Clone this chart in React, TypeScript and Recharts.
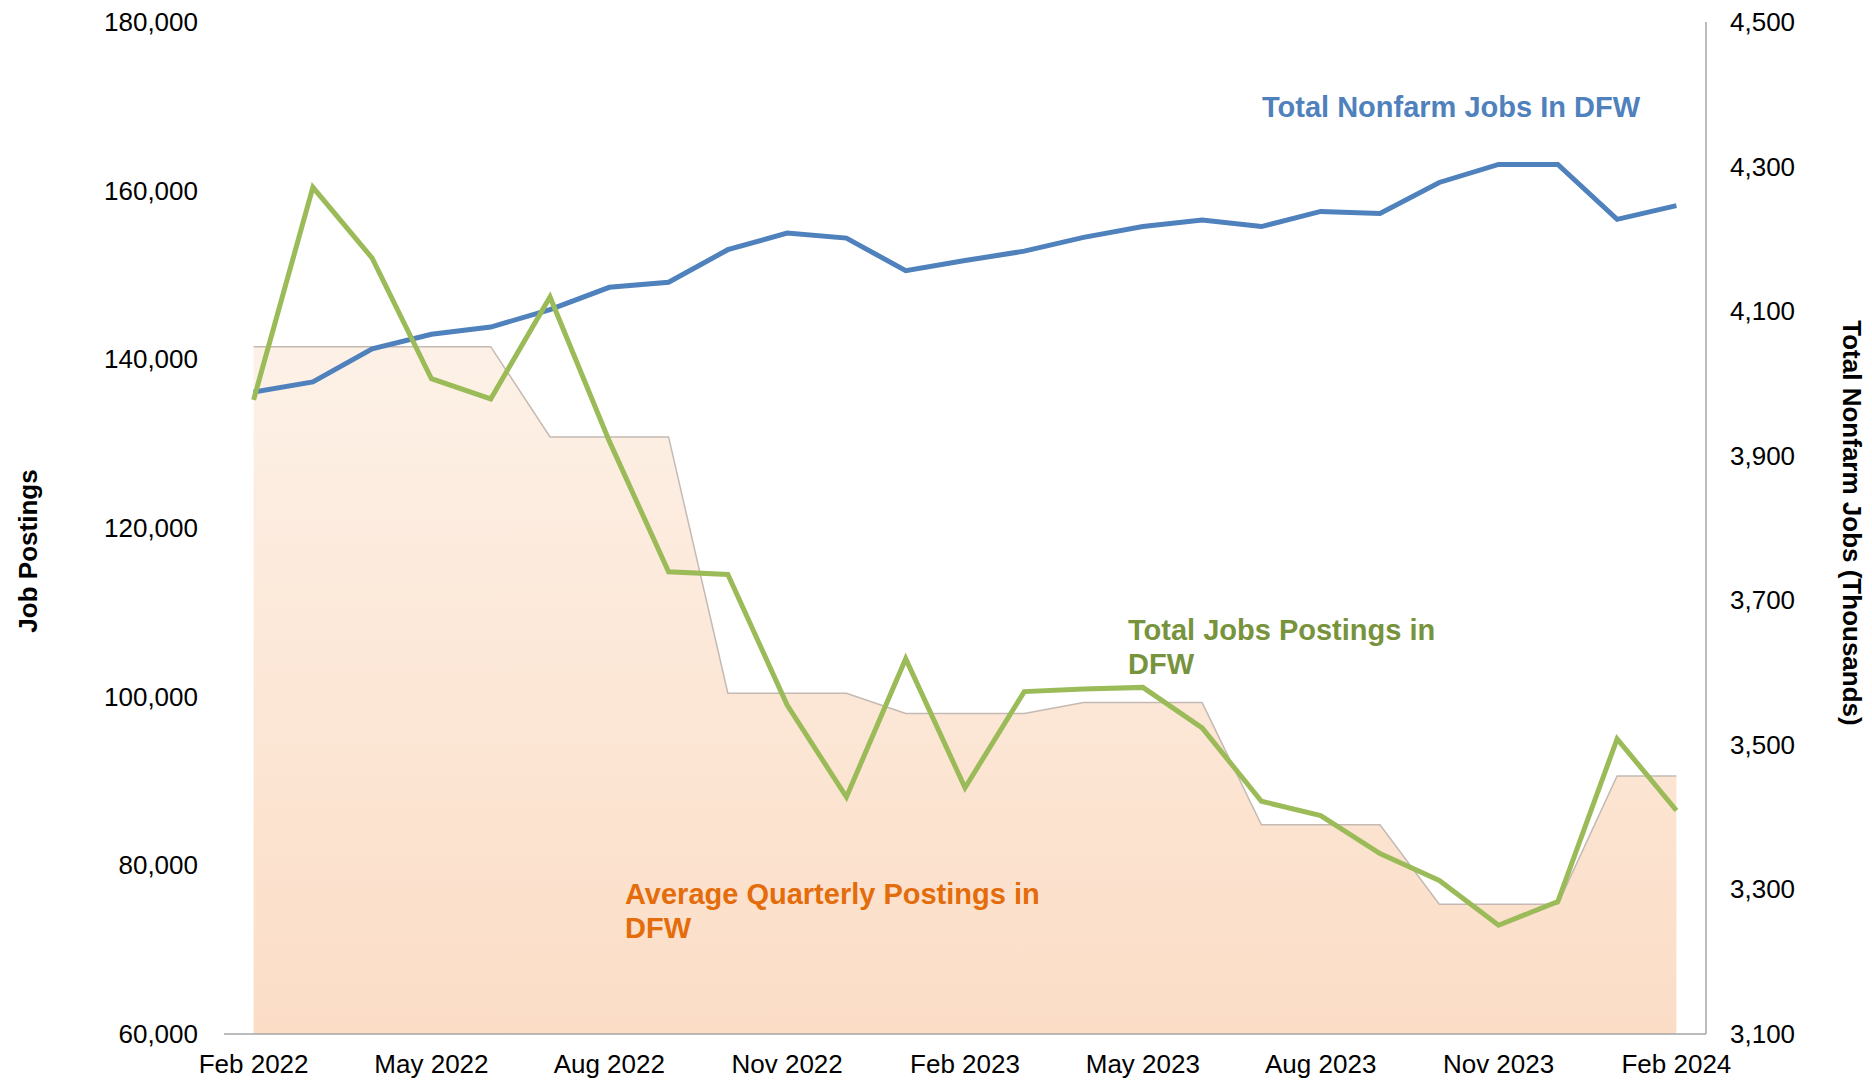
import { ComposedChart, Area, Line, XAxis, YAxis } from 'recharts';

// Monthly categories, Feb 2022 - Feb 2024
const months = [
  'Feb 2022', 'Mar 2022', 'Apr 2022', 'May 2022', 'Jun 2022', 'Jul 2022', 'Aug 2022', 'Sep 2022', 'Oct 2022',
  'Nov 2022', 'Dec 2022', 'Jan 2023', 'Feb 2023', 'Mar 2023', 'Apr 2023', 'May 2023', 'Jun 2023', 'Jul 2023',
  'Aug 2023', 'Sep 2023', 'Oct 2023', 'Nov 2023', 'Dec 2023', 'Jan 2024', 'Feb 2024',
];

// Total job postings in DFW (left axis)
const postings = [
  135200, 160400, 152000, 137700, 135300, 147400, 130300, 114800, 114500,
  99000, 88100, 104500, 89200, 100600, 100900, 101100, 96300, 87600,
  85900, 81400, 78200, 72900, 75700, 95000, 86500,
];

// Average quarterly postings in DFW (left axis)
const quarterlyAvg = [
  141500, 141500, 141500, 141500, 141500, 130800, 130800, 130800, 100400,
  100400, 100400, 98000, 98000, 98000, 99300, 99300, 99300, 84800,
  84800, 84800, 75400, 75400, 75400, 90600, 90600,
];

// Total nonfarm jobs in DFW, thousands (right axis)
const nonfarm = [
  3988, 4002, 4048, 4068, 4078, 4102, 4133, 4140, 4185,
  4208, 4201, 4156, 4170, 4183, 4202, 4217, 4226, 4217,
  4238, 4235, 4278, 4303, 4303, 4227, 4246,
];

const leftTicks = [60000, 80000, 100000, 120000, 140000, 160000, 180000];
const rightTicks = [3100, 3300, 3500, 3700, 3900, 4100, 4300, 4500];

const data = months.map((m, i) => ({
  month: m,
  postings: postings[i],
  avg: quarterlyAvg[i],
  nonfarm: nonfarm[i],
}));

const FONT = '"Liberation Sans", Arial, sans-serif';
const fmt = (v: number) => v.toLocaleString('en-US');

const XTick = (props: any) => {
  const { x, y, payload } = props;
  return (
    <text x={x} y={y + 39} textAnchor="middle" fontSize={26} fontFamily={FONT} fill="#000">
      {payload.value}
    </text>
  );
};

const LeftTick = (props: any) => {
  const { x, y, payload } = props;
  return (
    <text x={x - 26} y={y + 9} textAnchor="end" fontSize={26} fontFamily={FONT} fill="#000">
      {fmt(payload.value)}
    </text>
  );
};

const RightTick = (props: any) => {
  const { x, y, payload } = props;
  return (
    <text x={x + 24} y={y + 9} textAnchor="start" fontSize={26} fontFamily={FONT} fill="#000">
      {fmt(payload.value)}
    </text>
  );
};

// series labels and axis titles, drawn over the chart so the area doesn't hide them
const Annotations = () => (
  <svg width={1872} height={1081} style={{ position: 'absolute', left: 0, top: 0, pointerEvents: 'none' }}>
    <g fontFamily={FONT} fontWeight="bold">
      <text x={1262} y={117} fontSize={29} fill="#4F81BD">Total Nonfarm Jobs In DFW</text>
      <text x={1128} y={640} fontSize={29} fill="#77933C">Total Jobs Postings in</text>
      <text x={1128} y={674} fontSize={29} fill="#77933C">DFW</text>
      <text x={625} y={904} fontSize={29} fill="#E46C0A">Average Quarterly Postings in</text>
      <text x={625} y={938} fontSize={29} fill="#E46C0A">DFW</text>
      <text x={28} y={551} fontSize={26} fill="#000" textAnchor="middle" dominantBaseline="central"
        transform="rotate(-90, 28, 551)">Job Postings</text>
      <text x={1852} y={523} fontSize={26} fill="#000" textAnchor="middle" dominantBaseline="central"
        transform="rotate(90, 1852, 523)">Total Nonfarm Jobs (Thousands)</text>
    </g>
  </svg>
);

export default function App() {
  return (
    <div style={{ position: 'absolute', left: 0, top: 0, width: 1872, height: 1081, background: '#fff' }}>
      <ComposedChart width={1872} height={1081} data={data} margin={{ top: 22, right: 0, bottom: 0, left: 0 }}>
        <defs>
          <linearGradient id="avgFill" x1="0" y1="0" x2="0" y2="1">
            <stop offset="0%" stopColor="#FDF1E7" />
            <stop offset="100%" stopColor="#FBDDC6" />
          </linearGradient>
        </defs>
        <XAxis
          dataKey="month"
          interval={2}
          height={47}
          padding={{ left: 29.6, right: 29.6 }}
          tickSize={0}
          tickMargin={0}
          tick={<XTick />}
          axisLine={{ stroke: '#A6A6A6', strokeWidth: 1.5 }}
          tickLine={false}
        />
        <YAxis
          yAxisId="left"
          orientation="left"
          width={224}
          domain={[60000, 180000]}
          ticks={leftTicks}
          tickSize={0}
          tickMargin={0}
          tick={<LeftTick />}
          axisLine={false}
          tickLine={false}
        />
        <YAxis
          yAxisId="right"
          orientation="right"
          width={166}
          domain={[3100, 4500]}
          ticks={rightTicks}
          tickSize={0}
          tickMargin={0}
          tick={<RightTick />}
          axisLine={{ stroke: '#A6A6A6', strokeWidth: 1.5 }}
          tickLine={false}
        />
        <Area
          yAxisId="left"
          type="linear"
          dataKey="avg"
          fill="url(#avgFill)"
          fillOpacity={1}
          stroke="#C4BAB3"
          strokeWidth={1.5}
          isAnimationActive={false}
        />
        <Line
          yAxisId="right"
          type="linear"
          dataKey="nonfarm"
          stroke="#4F81BD"
          strokeWidth={5}
          dot={false}
          isAnimationActive={false}
        />
        <Line
          yAxisId="left"
          type="linear"
          dataKey="postings"
          stroke="#9BBB59"
          strokeWidth={5}
          dot={false}
          isAnimationActive={false}
        />
      </ComposedChart>
      <Annotations />
    </div>
  );
}
